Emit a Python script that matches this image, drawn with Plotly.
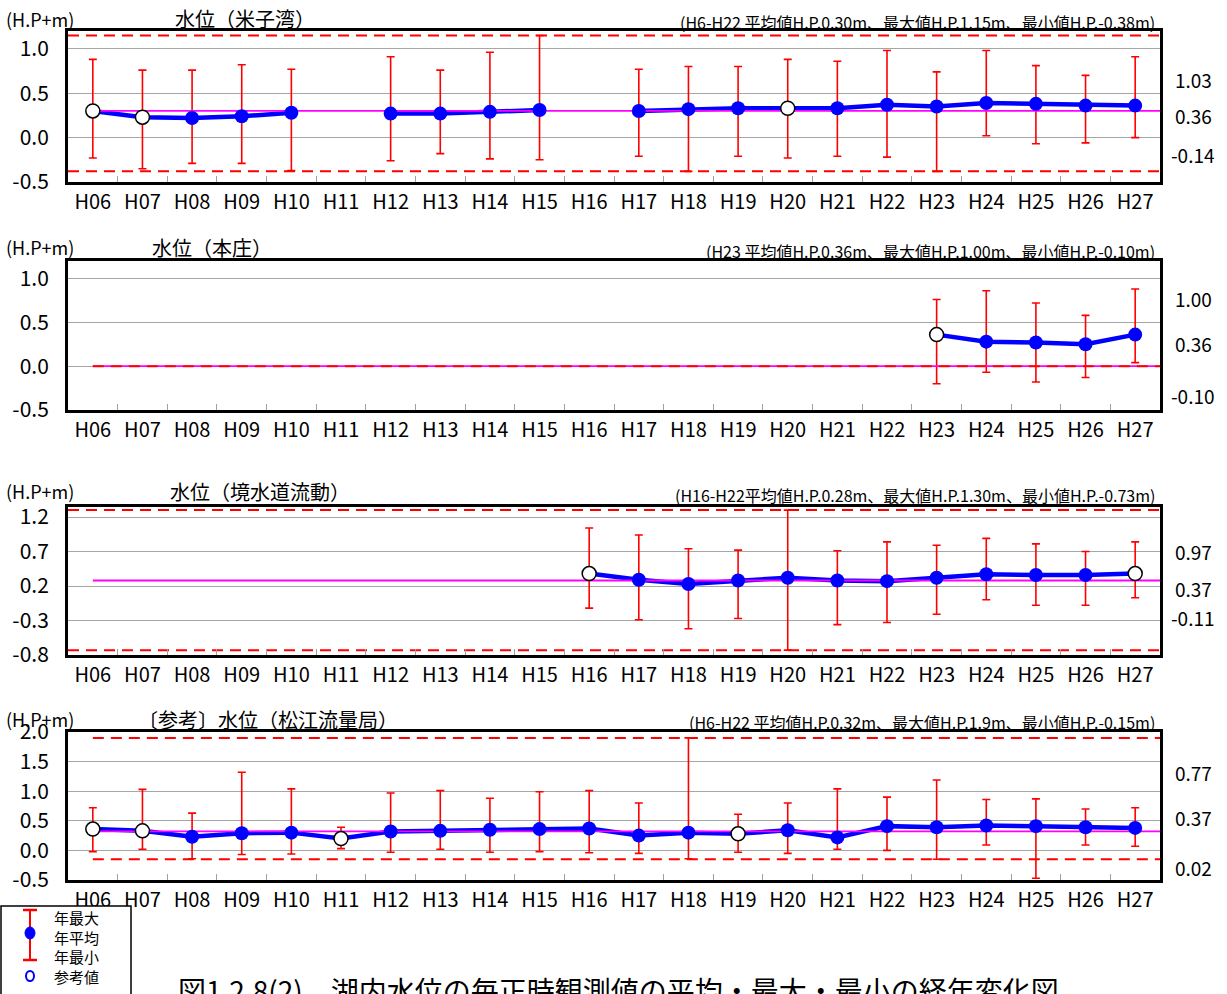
import plotly.graph_objects as go

W, H = 1227, 994

years = ["H06", "H07", "H08", "H09", "H10", "H11", "H12", "H13", "H14", "H15", "H16",
         "H17", "H18", "H19", "H20", "H21", "H22", "H23", "H24", "H25", "H26", "H27"]

# ---- Panel 1: 水位（米子湾）
p1_mean = [0.30, 0.23, 0.22, 0.24, 0.28, None, 0.27, 0.27, 0.29, 0.31, None,
           0.30, 0.32, 0.33, 0.33, 0.33, 0.37, 0.35, 0.39, 0.38, 0.36, 0.36]
p1_max = [0.88, 0.76, 0.76, 0.82, 0.77, None, 0.91, 0.76, 0.96, 1.15, None,
          0.77, 0.80, 0.80, 0.88, 0.86, 0.98, 0.74, 0.98, 0.81, 0.70, 0.91]
p1_min = [-0.23, -0.35, -0.29, -0.29, -0.37, None, -0.26, -0.18, -0.24, -0.25, None,
          -0.21, -0.38, -0.21, -0.23, -0.21, -0.22, -0.38, 0.02, -0.07, -0.06, 0.00]
p1_ref = ["H06", "H07", "H20"]
p1_lines = [0.30, 1.15, -0.38]          # avg, max, min
p1_side = ["1.03", "0.36", "-0.14"]

# ---- Panel 2: 水位（本庄）
p2_mean = [None] * 17 + [0.36, 0.28, 0.27, 0.25, 0.36]
p2_max = [None] * 17 + [0.76, 0.86, 0.72, 0.58, 0.88]
p2_min = [None] * 17 + [-0.20, -0.07, -0.18, -0.13, 0.04]
p2_ref = ["H23"]
p2_lines = [0.0, None, 0.0]
p2_side = ["1.00", "0.36", "-0.10"]

# ---- Panel 3: 水位（境水道流動）
p3_mean = [None] * 10 + [0.38, 0.29, 0.23, 0.28, 0.32, 0.28, 0.27, 0.32, 0.37, 0.36, 0.36, 0.38]
p3_max = [None] * 10 + [1.04, 0.94, 0.74, 0.72, 1.30, 0.71, 0.84, 0.79, 0.89, 0.81, 0.70, 0.84]
p3_min = [None] * 10 + [-0.12, -0.29, -0.42, -0.27, -0.73, -0.36, -0.33, -0.21, 0.00, -0.08, -0.08, 0.03]
p3_ref = ["H16", "H27"]
p3_lines = [0.28, 1.30, -0.73]
p3_side = ["0.97", "0.37", "-0.11"]

# ---- Panel 4: 〔参考〕水位（松江流量局）
p4_mean = [0.36, 0.33, 0.23, 0.29, 0.30, 0.20, 0.32, 0.33, 0.35, 0.36, 0.37,
           0.25, 0.30, 0.28, 0.34, 0.22, 0.41, 0.39, 0.42, 0.41, 0.39, 0.38]
p4_max = [0.72, 1.03, 0.63, 1.32, 1.04, 0.39, 0.97, 1.01, 0.88, 0.99, 1.01,
          0.80, 1.90, 0.61, 0.80, 1.04, 0.90, 1.19, 0.86, 0.87, 0.70, 0.72]
p4_min = [-0.02, 0.02, -0.14, -0.07, -0.06, 0.03, -0.03, 0.02, -0.03, -0.02, -0.04,
          -0.05, -0.14, -0.03, -0.05, 0.02, 0.00, -0.15, 0.09, -0.47, 0.09, 0.07]
p4_ref = ["H06", "H07", "H11", "H19"]
p4_lines = [0.32, 1.90, -0.15]
p4_side = ["0.77", "0.37", "0.02"]

titles = ["水位（米子湾）", "水位（本庄）", "水位（境水道流動）", "〔参考〕水位（松江流量局）"]
subtitles = ["(H6-H22 平均値H.P.0.30m、最大値H.P.1.15m、最小値H.P.-0.38m)",
             "(H23 平均値H.P.0.36m、最大値H.P.1.00m、最小値H.P.-0.10m)",
             "(H16-H22平均値H.P.0.28m、最大値H.P.1.30m、最小値H.P.-0.73m)",
             "(H6-H22 平均値H.P.0.32m、最大値H.P.1.9m、最小値H.P.-0.15m)"]
unit_label = "(H.P+m)"
y_ticks = [[-0.5, 0.0, 0.5, 1.0], [-0.5, 0.0, 0.5, 1.0],
           [-0.8, -0.3, 0.2, 0.7, 1.2], [-0.5, 0.0, 0.5, 1.0, 1.5, 2.0]]
legend_labels = ["年最大", "年平均", "年最小", "参考値"]
caption = "図1.2.8(2)　湖内水位の毎正時観測値の平均・最大・最小の経年変化図"

# ---- layout geometry (pixels)
panels = [
    dict(mean=p1_mean, mx=p1_max, mn=p1_min, ref=p1_ref, lines=p1_lines, side=p1_side,
         top=31, bottom=182, yr=[-0.5, 1.2], dash_from_edge=True,
         side_y=[79, 116, 154], head_y=19, title_x=173, sub_y=22),
    dict(mean=p2_mean, mx=p2_max, mn=p2_min, ref=p2_ref, lines=p2_lines, side=p2_side,
         top=261, bottom=410, yr=[-0.5, 1.2], dash_from_edge=False,
         side_y=[298, 343, 395], head_y=247, title_x=150, sub_y=251),
    dict(mean=p3_mean, mx=p3_max, mn=p3_min, ref=p3_ref, lines=p3_lines, side=p3_side,
         top=507, bottom=655, yr=[-0.8, 1.345], dash_from_edge=True,
         side_y=[551, 588, 617], head_y=491, title_x=168, sub_y=495),
    dict(mean=p4_mean, mx=p4_max, mn=p4_min, ref=p4_ref, lines=p4_lines, side=p4_side,
         top=732, bottom=880, yr=[-0.5, 2.0], dash_from_edge=False,
         side_y=[772, 817, 867], head_y=719, title_x=136, sub_y=722),
]
LEFT, RIGHT = 68, 1160

JP = "Noto Sans CJK JP"
NUM = "Noto Sans CJK JP, sans-serif"


def px(x):
    return x / W


def py(y):
    return 1 - y / H


fig = go.Figure()
annotations = []
shapes = []
xs = list(range(len(years)))

for i, p in enumerate(panels):
    n = i + 1
    xa = "x" if n == 1 else f"x{n}"
    ya = "y" if n == 1 else f"y{n}"
    mean, mx, mn = p["mean"], p["mx"], p["mn"]
    up = [None if m is None else round(a - m, 3) for a, m in zip(mx, mean)]
    dn = [None if m is None else round(m - b, 3) for b, m in zip(mn, mean)]

    # error bars (year max / min)
    fig.add_trace(go.Scatter(
        x=xs, y=mean, mode="markers", xaxis=xa, yaxis=ya, showlegend=False,
        marker=dict(size=1, color="rgba(0,0,0,0)"),
        error_y=dict(type="data", symmetric=False, array=up, arrayminus=dn,
                     color="#ff0000", thickness=1.6, width=4),
        hoverinfo="skip"))
    # yearly mean line
    fig.add_trace(go.Scatter(
        x=xs, y=mean, mode="lines", xaxis=xa, yaxis=ya, showlegend=False,
        line=dict(color="#0000ff", width=4.5), connectgaps=False))
    # reference lines
    avg, vmax, vmin = p["lines"]
    x_start = -0.5 if p["dash_from_edge"] else 0
    if avg is not None:
        fig.add_trace(go.Scatter(x=[0, 21.5], y=[avg, avg], mode="lines", xaxis=xa, yaxis=ya,
                                 showlegend=False, line=dict(color="#ff00ff", width=1.8)))
    for v in (vmax, vmin):
        if v is not None:
            fig.add_trace(go.Scatter(x=[x_start, 21.5], y=[v, v], mode="lines", xaxis=xa, yaxis=ya,
                                     showlegend=False,
                                     line=dict(color="#ff0000", width=2, dash="11px,7px")))
    # mean markers
    ref_idx = [years.index(r) for r in p["ref"]]
    mk_x = [k for k in xs if mean[k] is not None and k not in ref_idx]
    fig.add_trace(go.Scatter(
        x=mk_x, y=[mean[k] for k in mk_x], mode="markers", xaxis=xa, yaxis=ya, showlegend=False,
        marker=dict(size=14, color="#0000ff", line=dict(width=0))))
    fig.add_trace(go.Scatter(
        x=ref_idx, y=[mean[k] for k in ref_idx], mode="markers", xaxis=xa, yaxis=ya, showlegend=False,
        marker=dict(size=14, color="white", line=dict(width=1.5, color="black"))))

    dom_y = [py(p["bottom"]), py(p["top"])]
    fig.layout[f"xaxis{'' if n == 1 else n}"] = dict(
        domain=[px(LEFT), px(RIGHT)], anchor=ya, range=[-0.5, 21.5],
        tickmode="array", tickvals=xs, ticktext=years, ticks="",
        showgrid=False, zeroline=False, showline=True, mirror=True,
        linewidth=3, linecolor="black", automargin=False,
        tickfont=dict(family=NUM, size=20, color="black"),
        minor=dict(tickmode="array", tickvals=[k + 0.5 for k in range(21)],
                   ticks="inside", ticklen=6, tickcolor="#a0a0a0", tickwidth=1, showgrid=False),
        fixedrange=True)
    fig.layout[f"yaxis{'' if n == 1 else n}"] = dict(
        domain=dom_y, anchor=xa, range=p["yr"],
        tickmode="array", tickvals=y_ticks[i], ticktext=[f"{v:.1f}" for v in y_ticks[i]],
        ticks="", showgrid=True, gridcolor="#a6a6a6", gridwidth=1, zeroline=False,
        showline=True, mirror=True, linewidth=3, linecolor="black", automargin=False,
        tickfont=dict(family=NUM, size=21, color="black"), ticklabelstandoff=12,
        fixedrange=True)

    # texts
    annotations.append(dict(text=unit_label, x=px(4), y=py(p["head_y"]), xref="paper", yref="paper",
                            xanchor="left", yanchor="middle", showarrow=False,
                            font=dict(family=NUM, size=18, color="black")))
    annotations.append(dict(text=titles[i], x=px(p["title_x"]), y=py(p["head_y"]), xref="paper",
                            yref="paper", xanchor="left", yanchor="middle", showarrow=False,
                            font=dict(family=JP, size=20, color="black")))
    annotations.append(dict(text=subtitles[i], x=px(1157), y=py(p["sub_y"]), xref="paper",
                            yref="paper", xanchor="right", yanchor="middle", showarrow=False,
                            font=dict(family=JP, size=16, color="black")))
    for txt, sy in zip(p["side"], p["side_y"]):
        annotations.append(dict(text=txt, x=px(1193), y=py(sy), xref="paper", yref="paper",
                                xanchor="center", yanchor="middle", showarrow=False,
                                font=dict(family=NUM, size=19, color="black")))

# legend box (drawn)
shapes.append(dict(type="rect", xref="paper", yref="paper", x0=px(1), x1=px(131),
                   y0=py(1000), y1=py(906), line=dict(color="black", width=1.5), fillcolor="white"))
shapes.append(dict(type="line", xref="paper", yref="paper", x0=px(30), x1=px(30),
                   y0=py(910), y1=py(960), line=dict(color="#ff0000", width=2)))
for cy in (910, 960):
    shapes.append(dict(type="line", xref="paper", yref="paper", x0=px(23), x1=px(37),
                       y0=py(cy), y1=py(cy), line=dict(color="#ff0000", width=2.5)))
shapes.append(dict(type="circle", xref="paper", yref="paper", x0=px(25), x1=px(35),
                   y0=py(939), y1=py(927), line=dict(color="#0000ff", width=1), fillcolor="#0000ff"))
shapes.append(dict(type="circle", xref="paper", yref="paper", x0=px(26), x1=px(34),
                   y0=py(981), y1=py(971), line=dict(color="#0000ff", width=2), fillcolor="white"))
for txt, ly in zip(legend_labels, [917, 937, 956, 976]):
    annotations.append(dict(text=txt, x=px(52), y=py(ly), xref="paper", yref="paper",
                            xanchor="left", yanchor="middle", showarrow=False,
                            font=dict(family=JP, size=15, color="black")))

annotations.append(dict(text=caption, x=px(176), y=py(968), xref="paper", yref="paper",
                        xanchor="left", yanchor="top", showarrow=False,
                        font=dict(family=JP, size=28, color="black")))

fig.update_layout(width=W, height=H, margin=dict(l=0, r=0, t=0, b=0, pad=0, autoexpand=False),
                  paper_bgcolor="white", plot_bgcolor="white",
                  annotations=annotations, shapes=shapes, showlegend=False)

fig.write_html("out.html", config={"displayModeBar": False},
               post_script="document.body.style.margin='0px';document.body.style.overflow='hidden';")
